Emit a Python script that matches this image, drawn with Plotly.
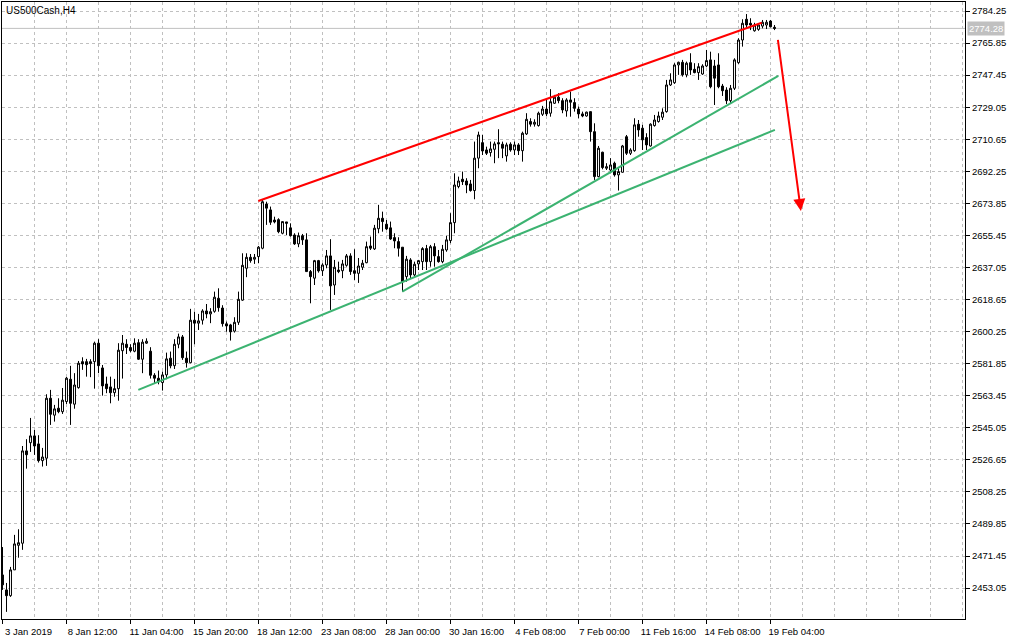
import plotly.graph_objects as go

# ---- data (H4 bars) ----
opens = [2460.6,2452.0,2448.7,2463.5,2477.6,2478.8,2531.8,2536.5,2540.4,2535.8,
2526.2,2527.6,2562.0,2552.3,2556.3,2554.3,2560.1,2572.9,2558.6,2568.1,
2583.0,2583.0,2583.0,2583.0,2593.6,2579.4,2570.2,2568.5,2565.2,2567.5,
2589.3,2593.0,2591.1,2589.0,2593.9,2584.4,2593.6,2589.0,2575.2,2573.5,
2571.0,2575.4,2585.0,2580.7,2593.0,2597.2,2585.0,2582.4,2606.8,2605.1,
2606.8,2612.1,2610.4,2611.9,2619.4,2613.8,2604.7,2604.1,2600.5,2605.6,
2618.3,2636.6,2642.9,2641.8,2643.3,2648.1,2673.5,2670.1,2664.3,2664.5,
2656.7,2663.2,2659.8,2655.7,2650.6,2655.3,2652.9,2634.7,2630.9,2641.0,
2635.2,2638.5,2643.7,2627.0,2635.6,2635.2,2638.3,2643.7,2635.2,2633.7,
2637.2,2639.8,2649.4,2647.7,2659.3,2665.3,2661.9,2659.8,2654.2,2651.9,
2648.7,2631.8,2641.4,2632.8,2639.1,2640.4,2647.9,2640.4,2649.0,2643.3,
2640.4,2647.1,2652.5,2662.8,2683.5,2687.7,2686.7,2685.0,2681.2,2699.8,
2708.7,2704.5,2703.0,2704.9,2708.7,2707.8,2701.1,2707.8,2704.5,2707.4,
2704.1,2713.7,2720.8,2719.3,2718.5,2725.0,2728.0,2725.6,2731.3,2734.8,
2732.8,2726.9,2733.2,2731.7,2728.0,2725.2,2724.0,2726.5,2715.0,2689.2,
2703.2,2694.0,2693.0,2696.9,2690.2,2691.7,2712.1,2702.6,2704.1,2719.3,
2717.0,2711.6,2706.8,2718.5,2720.8,2723.3,2726.5,2741.8,2743.1,2753.3,
2754.8,2747.6,2754.6,2750.8,2748.9,2748.1,2752.7,2756.2,2752.7,2753.3,
2741.2,2738.9,2732.8,2739.9,2754.6,2767.6,2779.5,2777.2,2772.9,2773.7,
2775.6,2776.2,2778.5,2774.9]
highs = [2476.6,2456.0,2465.2,2483.6,2486.8,2534.6,2538.5,2550.7,2543.8,2540.8,
2533.5,2564.3,2566.8,2558.2,2562.0,2567.9,2574.2,2580.6,2576.4,2583.4,
2585.5,2584.6,2584.4,2594.5,2595.9,2581.1,2574.4,2574.4,2573.1,2593.6,
2598.3,2595.9,2593.0,2596.4,2595.9,2595.9,2596.4,2591.3,2576.4,2577.9,
2577.3,2588.2,2588.8,2595.9,2599.1,2598.3,2588.8,2613.3,2611.7,2610.4,
2613.1,2616.1,2613.7,2623.2,2625.1,2615.4,2606.0,2604.7,2608.5,2623.2,
2645.2,2645.2,2644.8,2644.8,2649.4,2675.8,2674.8,2672.0,2666.2,2665.3,
2663.4,2663.2,2662.4,2656.7,2657.1,2656.3,2656.7,2635.6,2641.4,2641.4,
2639.5,2647.1,2653.3,2641.4,2640.4,2641.4,2644.8,2645.2,2647.5,2642.5,
2641.4,2651.9,2654.8,2661.5,2673.0,2669.1,2664.3,2663.4,2656.7,2654.4,
2648.7,2643.7,2642.4,2640.4,2641.4,2648.7,2650.0,2650.0,2651.0,2647.1,
2650.0,2655.2,2668.2,2691.1,2689.2,2692.1,2688.3,2687.3,2709.3,2715.0,
2713.1,2706.4,2709.3,2709.3,2716.4,2709.3,2708.7,2708.9,2709.3,2708.4,
2715.0,2725.6,2722.7,2722.1,2726.5,2729.8,2734.2,2739.4,2736.1,2737.1,
2734.2,2734.2,2738.0,2734.2,2729.4,2726.5,2726.5,2726.5,2719.8,2706.8,
2703.5,2696.9,2699.8,2697.8,2694.0,2707.4,2713.1,2705.5,2722.7,2721.7,
2718.9,2714.1,2719.8,2724.6,2726.5,2728.4,2744.7,2748.5,2754.3,2755.2,
2756.2,2755.2,2760.0,2754.3,2754.3,2753.7,2761.9,2760.9,2756.2,2760.0,
2742.4,2740.5,2741.8,2757.1,2768.6,2779.5,2782.5,2780.1,2777.5,2777.2,
2779.1,2779.1,2779.1,2776.2]
lows = [2452.0,2439.4,2448.0,2463.5,2470.5,2475.0,2521.6,2531.2,2529.5,2525.1,
2522.8,2523.2,2546.7,2548.6,2553.4,2553.0,2558.7,2546.7,2556.0,2567.5,
2578.3,2574.4,2574.1,2567.5,2576.4,2563.5,2564.9,2559.1,2562.9,2560.6,
2573.3,2587.4,2588.4,2588.4,2584.0,2576.4,2593.2,2573.3,2570.6,2570.0,
2566.4,2572.9,2579.2,2578.8,2590.7,2584.0,2579.6,2582.1,2593.0,2601.2,
2604.3,2607.9,2605.1,2611.1,2611.7,2603.1,2600.2,2595.1,2599.7,2604.1,
2617.9,2631.5,2639.8,2639.1,2639.5,2647.5,2661.5,2661.5,2662.4,2656.7,
2656.1,2655.7,2654.8,2650.0,2648.7,2650.0,2634.7,2616.5,2627.0,2634.1,
2632.2,2636.6,2612.7,2621.3,2633.8,2630.9,2637.5,2632.8,2629.9,2628.2,
2635.6,2639.5,2647.1,2647.1,2656.7,2657.6,2658.6,2652.9,2648.1,2643.3,
2623.2,2628.9,2630.9,2631.8,2635.6,2635.6,2635.6,2637.5,2637.5,2639.8,
2639.5,2646.1,2651.0,2656.7,2682.5,2684.4,2679.7,2680.6,2676.2,2694.0,
2701.6,2701.6,2700.7,2696.9,2699.8,2699.8,2697.8,2703.5,2701.6,2701.6,
2697.8,2713.1,2717.9,2717.9,2717.9,2724.0,2724.0,2723.6,2730.9,2731.3,
2725.6,2723.6,2723.6,2726.5,2722.7,2723.3,2723.6,2709.3,2687.3,2688.8,
2693.4,2693.0,2691.1,2689.2,2681.2,2691.5,2701.6,2701.6,2703.5,2712.1,
2704.5,2704.5,2706.4,2717.9,2720.2,2721.7,2725.9,2741.2,2742.4,2747.6,
2746.6,2746.2,2747.6,2748.5,2744.7,2747.6,2752.0,2739.9,2730.3,2739.9,
2735.5,2730.9,2731.3,2738.9,2753.9,2763.8,2774.3,2773.3,2772.4,2772.9,
2774.3,2773.9,2774.9,2773.3]
closes = [2454.9,2448.7,2463.5,2478.4,2479.1,2531.8,2529.6,2540.4,2534.6,2526.2,
2528.3,2562.0,2552.8,2555.9,2554.3,2560.9,2573.5,2559.1,2569.6,2582.1,
2581.7,2581.3,2581.9,2593.6,2580.7,2569.1,2567.5,2565.2,2567.5,2589.6,
2593.6,2591.1,2589.3,2593.6,2584.4,2594.2,2594.7,2575.2,2573.5,2571.5,
2575.4,2584.6,2580.6,2593.0,2597.2,2585.3,2582.4,2606.8,2605.1,2606.4,
2612.1,2610.4,2611.7,2620.0,2614.0,2604.8,2603.5,2600.1,2605.6,2618.8,
2638.3,2642.9,2641.0,2642.9,2648.7,2674.8,2671.1,2663.0,2663.2,2657.6,
2663.4,2662.4,2655.3,2650.6,2655.3,2652.9,2634.7,2631.8,2641.0,2635.1,
2638.5,2643.7,2626.5,2637.2,2634.7,2639.1,2643.7,2634.7,2633.7,2637.9,
2639.5,2649.0,2648.1,2659.6,2665.3,2663.4,2659.2,2653.4,2652.3,2648.1,
2628.9,2641.8,2632.8,2638.9,2641.0,2647.9,2640.4,2649.0,2643.7,2640.4,
2647.5,2652.9,2662.8,2684.4,2686.7,2686.3,2684.4,2681.2,2699.8,2713.1,
2703.9,2702.6,2705.1,2708.0,2708.0,2705.5,2707.4,2704.5,2707.4,2704.1,
2714.1,2722.1,2719.3,2720.4,2725.6,2728.0,2725.2,2732.2,2734.8,2732.8,
2727.5,2733.2,2731.9,2728.4,2725.2,2724.0,2726.2,2715.0,2689.2,2705.5,
2694.4,2694.9,2695.9,2690.2,2692.1,2706.8,2702.6,2704.5,2718.9,2716.0,
2710.3,2707.4,2719.3,2721.7,2724.0,2726.2,2741.8,2744.7,2753.3,2754.8,
2747.6,2754.3,2750.4,2748.9,2752.3,2752.7,2755.8,2740.8,2745.7,2740.8,
2738.5,2732.8,2739.9,2756.2,2767.6,2777.2,2776.2,2776.2,2776.2,2776.2,
2777.8,2777.8,2775.2,2774.28]
bars = list(range(len(closes)))

tick_bars = [0, 16, 32, 48, 64, 80, 96, 112, 128, 144, 160, 176, 192]
tick_labels = ["3 Jan 2019", "8 Jan 12:00", "11 Jan 04:00", "15 Jan 20:00",
               "18 Jan 12:00", "23 Jan 08:00", "28 Jan 00:00", "30 Jan 16:00",
               "4 Feb 08:00", "7 Feb 00:00", "11 Feb 16:00", "14 Feb 08:00",
               "19 Feb 04:00"]
price_ticks = [2453.05, 2471.45, 2489.85, 2508.25, 2526.65, 2545.05, 2563.45,
               2581.85, 2600.25, 2618.65, 2637.05, 2655.45, 2673.85, 2692.25,
               2710.65, 2729.05, 2747.45, 2765.85, 2784.25]
last_price = 2774.28

# trend lines: (bar, price) end points
red_line = [(63.95, 2675.2), (189.8, 2777.5)]
green_line_a = [(33.95, 2566.8), (193.1, 2716.0)]
green_line_b = [(99.95, 2623.2), (193.95, 2747.0)]
red_arrow = [(193.8, 2768.6), (199.6, 2669.5)]

FONT = "Liberation Sans"
GRID = "#c0c0c0"

fig = go.Figure()
fig.add_trace(go.Candlestick(
    x=bars, open=opens, high=highs, low=lows, close=closes,
    increasing=dict(line=dict(color="black", width=1), fillcolor="white"),
    decreasing=dict(line=dict(color="black", width=1), fillcolor="black"),
    whiskerwidth=0, showlegend=False, hoverinfo="skip"))

# current price line
fig.add_shape(type="line", xref="paper", x0=0, x1=1, yref="y",
              y0=last_price, y1=last_price, line=dict(color=GRID, width=1),
              layer="below")

green = "#3cb371"
for seg, col in [(red_line, "#ff0000"), (green_line_a, green), (green_line_b, green)]:
    fig.add_shape(type="line", xref="x", yref="y",
                  x0=seg[0][0], y0=seg[0][1], x1=seg[1][0], y1=seg[1][1],
                  line=dict(color=col, width=2))

fig.add_annotation(x=red_arrow[1][0], y=red_arrow[1][1],
                   ax=red_arrow[0][0], ay=red_arrow[0][1],
                   xref="x", yref="y", axref="x", ayref="y",
                   text="", showarrow=True, arrowhead=2, arrowsize=1.2,
                   arrowwidth=2, arrowcolor="#ff0000", standoff=0)

fig.add_annotation(x=0, y=1, xref="paper", yref="paper", xanchor="left",
                   yanchor="top", xshift=2, yshift=-1, showarrow=False,
                   text="US500Cash,H4", font=dict(family=FONT, size=10, color="black"))

fig.add_annotation(x=1, y=last_price, xref="paper", yref="y", xanchor="left",
                   yanchor="middle", xshift=2, showarrow=False,
                   text="2774.28", bgcolor=GRID, borderpad=1,
                   font=dict(family=FONT, size=9.5, color="white"))

fig.update_layout(
    width=1018, height=640,
    margin=dict(l=2, r=53, t=2, b=21, autoexpand=False),
    paper_bgcolor="white", plot_bgcolor="white",
    font=dict(family=FONT, size=9.5, color="black"),
    showlegend=False,
    xaxis=dict(
        range=[-0.125, 240.625], rangeslider=dict(visible=False),
        tickmode="array", tickvals=tick_bars, ticktext=tick_labels,
        ticks="outside", ticklen=4, tickcolor="black", ticklabelshift=26,
        showline=True, linecolor="black", linewidth=1, mirror=True,
        showgrid=True, gridcolor=GRID, griddash="3px,3px", gridwidth=1,
        minor=dict(tickmode="linear", tick0=0, dtick=8, showgrid=True,
                   gridcolor=GRID, griddash="3px,3px", ticks=""),
        zeroline=False, fixedrange=True),
    yaxis=dict(
        range=[2435.31, 2789.42], side="right",
        tickmode="array", tickvals=price_ticks,
        ticktext=[f"{v:.2f}" for v in price_ticks],
        ticks="outside", ticklen=4, tickcolor="black",
        showline=True, linecolor="black", linewidth=1, mirror=True,
        showgrid=True, gridcolor=GRID, griddash="3px,3px", gridwidth=1,
        zeroline=False, fixedrange=True),
)

fig.write_html("out.html", config={"displayModeBar": False},
               post_script="document.body.style.margin='0';document.body.style.overflow='hidden';")
